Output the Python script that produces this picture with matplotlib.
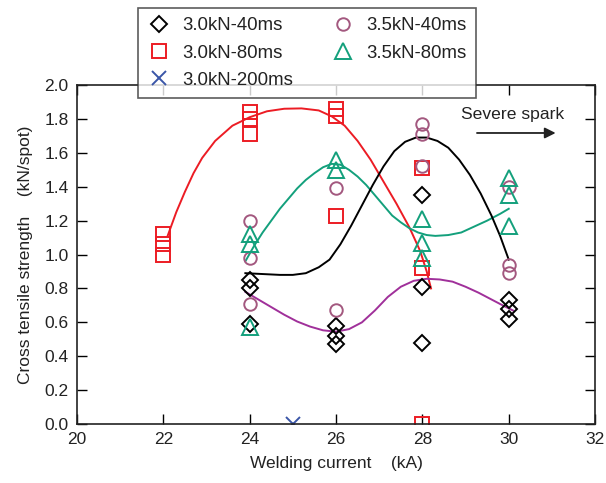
import numpy as np
import matplotlib.pyplot as plt

plt.rcParams['font.family'] = ['Liberation Sans', 'DejaVu Sans']

# measured points: (welding current kA, strength kN/spot)
x_30_40 = [24, 24, 24, 26, 26, 26, 28, 28, 28, 30, 30, 30]
y_30_40 = [0.85, 0.80, 0.59, 0.58, 0.52, 0.47, 1.35, 0.81, 0.48, 0.73, 0.68, 0.62]

x_30_80 = [22, 22, 22, 24, 24, 24, 26, 26, 26, 28, 28, 28]
y_30_80 = [1.12, 1.06, 1.00, 1.84, 1.80, 1.71, 1.86, 1.82, 1.23, 1.51, 0.92, 0.00]

x_30_200 = [25]
y_30_200 = [0.00]

x_35_40 = [24, 24, 24, 26, 26, 28, 28, 28, 30, 30, 30]
y_35_40 = [1.20, 0.98, 0.71, 1.39, 0.67, 1.77, 1.71, 1.52, 1.40, 0.94, 0.89]

x_35_80 = [24, 24, 24, 26, 26, 28, 28, 28, 30, 30, 30]
y_35_80 = [1.12, 1.06, 0.57, 1.56, 1.50, 1.21, 1.07, 0.98, 1.45, 1.35, 1.17]

# trend curves
cx_red = [22.1, 22.3, 22.5, 22.7, 22.9, 23.2, 23.6, 24.0, 24.4, 24.8, 25.2, 25.6,
          25.9, 26.2, 26.5, 26.8, 27.1, 27.4, 27.7, 27.95, 28.1, 28.2]
cy_red = [1.11, 1.25, 1.37, 1.48, 1.57, 1.67, 1.76, 1.81, 1.845, 1.86, 1.862, 1.85,
          1.815, 1.76, 1.67, 1.56, 1.43, 1.30, 1.16, 1.02, 0.90, 0.80]

cx_green = [23.9, 24.1, 24.3, 24.5, 24.7, 24.9, 25.1, 25.3, 25.5, 25.7, 25.9, 26.1,
            26.3, 26.5, 26.7, 26.9, 27.1, 27.3, 27.5, 27.7, 27.9, 28.1, 28.3, 28.6,
            28.9, 29.2, 29.5, 29.8, 30.0]
cy_green = [0.96, 1.05, 1.13, 1.20, 1.27, 1.33, 1.39, 1.44, 1.48, 1.515, 1.535, 1.53,
            1.50, 1.46, 1.41, 1.35, 1.29, 1.23, 1.19, 1.155, 1.13, 1.115, 1.11, 1.115,
            1.13, 1.165, 1.20, 1.24, 1.27]

cx_black = [23.9, 24.3, 24.7, 25.0, 25.3, 25.6, 25.85, 26.1, 26.35, 26.6, 26.85, 27.1,
            27.35, 27.6, 27.85, 28.1, 28.35, 28.6, 28.85, 29.1, 29.35, 29.6, 29.8, 30.0]
cy_black = [0.89, 0.885, 0.88, 0.88, 0.89, 0.925, 0.97, 1.06, 1.17, 1.29, 1.41, 1.52,
            1.61, 1.665, 1.69, 1.69, 1.67, 1.63, 1.56, 1.47, 1.36, 1.23, 1.11, 0.97]

cx_purple = [23.9, 24.2, 24.5, 24.8, 25.1, 25.4, 25.7, 26.0, 26.3, 26.6, 26.9, 27.2,
             27.5, 27.8, 28.1, 28.4, 28.7, 29.0, 29.3, 29.6, 29.9, 30.1]
cy_purple = [0.78, 0.735, 0.69, 0.645, 0.605, 0.575, 0.553, 0.545, 0.56, 0.60, 0.67, 0.75,
             0.81, 0.845, 0.857, 0.853, 0.84, 0.81, 0.775, 0.735, 0.695, 0.67]

red = '#ec1c24'
green = '#13a07c'
purple_m = '#a3587f'
purple_l = '#a0309a'
blue = '#3a56a8'
txt = '#222222'

fig = plt.figure(figsize=(6.06, 4.83), dpi=100)
ax = fig.add_axes([0.127, 0.122, 0.855, 0.702])

ax.plot(cx_red, cy_red, color=red, lw=1.4)
ax.plot(cx_green, cy_green, color=green, lw=1.4)
ax.plot(cx_black, cy_black, color='black', lw=1.4)
ax.plot(cx_purple, cy_purple, color=purple_l, lw=1.4)

mk = dict(linestyle='None', markerfacecolor='none', markeredgewidth=1.4)
h1, = ax.plot(x_30_40, y_30_40, marker='D', markersize=7.8, markeredgecolor='black',
              label='3.0kN-40ms', **mk)
h2, = ax.plot(x_30_80, y_30_80, marker='s', markersize=10, markeredgecolor=red,
              label='3.0kN-80ms', **mk)
h3, = ax.plot(x_30_200, y_30_200, marker='x', markersize=10, markeredgecolor=blue,
              label='3.0kN-200ms', **mk)
h4, = ax.plot(x_35_40, y_35_40, marker='o', markersize=9, markeredgecolor=purple_m,
              label='3.5kN-40ms', **mk)
h5, = ax.plot(x_35_80, y_35_80, marker='^', markersize=11, markeredgecolor=green,
              label='3.5kN-80ms', **mk)

ax.set_xlim(20, 32)
ax.set_ylim(0, 2.0)
ax.set_xticks(np.arange(20, 33, 2))
ax.set_yticks(np.arange(0, 2.01, 0.2))
ax.set_yticklabels(['%.1f' % v for v in np.arange(0, 2.01, 0.2)])
ax.tick_params(direction='in', length=7, width=1, top=True, right=True,
               labelsize=12.5, labelcolor=txt, pad=6)
for s in ax.spines.values():
    s.set_linewidth(1.2)
    s.set_color('#222222')

ax.set_xlabel('Welding current    (kA)', fontsize=12.5, color=txt, labelpad=6)
ax.set_ylabel('Cross tensile strength    (kN/spot)', fontsize=12.5, color=txt, labelpad=8)

ax.text(30.1, 1.825, 'Severe spark', fontsize=12.6, color=txt, ha='center', va='center')
ax.annotate('', xy=(31.15, 1.717), xytext=(29.2, 1.717),
            arrowprops=dict(arrowstyle='-|>', color='#222222', lw=1.3, mutation_scale=16))

leg = fig.legend(handles=[h1, h2, h3, h4, h5], ncol=2, loc='upper left',
                 bbox_to_anchor=(138 / 606, 1 - 8 / 483), borderaxespad=0,
                 fontsize=13.4, frameon=True, fancybox=False, borderpad=0.5,
                 labelspacing=0.55, columnspacing=2.0, handletextpad=0.6,
                 handlelength=1.3)
leg.get_frame().set_edgecolor('#333333')
leg.get_frame().set_linewidth(1.2)
for t in leg.get_texts():
    t.set_color(txt)

fig.savefig('out.png', dpi=100)
